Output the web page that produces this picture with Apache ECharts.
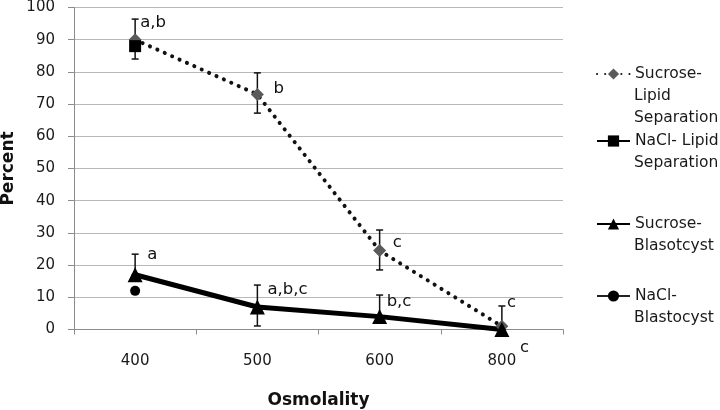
<!DOCTYPE html>
<html>
<head>
<meta charset="utf-8">
<script src="https://cdn.jsdelivr.net/npm/echarts@6/dist/echarts.min.js"></script>
<style>
html,body{margin:0;padding:0;background:#fff;}
#chart{width:720px;height:410px;}
</style>
</head>
<body>
<div id="chart"></div>
<script>
// ---- data ----
const categories = ['400', '500', '600', '800'];
const yTicks = [0, 10, 20, 30, 40, 50, 60, 70, 80, 90, 100];
const sucroseLipid = [90, 73, 24.5, 1];
const naclLipid = [88, null, null, null];
const sucroseBlast = [17, 7, 4, 0];
const naclBlast = [12, null, null, null];
// error bars (low / high) per category
const lipidErrLow = [84, 67.2, 18.5, 0];
const lipidErrHigh = [96.4, 79.7, 30.9, 7.3];
const blastErrLow = [17, 1.1, 4, 0];
const blastErrHigh = [23.4, 13.8, 10.7, 0];
// significance letters: category index, anchor value, text
const letterCats = [0, 1, 2, 3, 0, 1, 2, 3];
const letterVals = [90, 73, 24.5, 1, 17, 7, 4, 0];
const letterTexts = ['a,b', 'b', 'c', 'c', 'a', 'a,b,c', 'b,c', 'c'];
const seriesNames = ['Sucrose-Lipid Separation', 'NaCl- Lipid Separation', 'Sucrose-Blasotcyst', 'NaCl-Blastocyst'];
const legendLines = [['Sucrose-', 'Lipid', 'Separation'], ['NaCl- Lipid', 'Separation'], ['Sucrose-', 'Blasotcyst'], ['NaCl-', 'Blastocyst']];

// ---- layout / style ----
const FONT = 'DejaVu Sans';
const letterOffsets = [[5, -17], [16, -6], [13, -8], [5, -24], [12, -20], [10, -17], [7, -15], [18, 18]];
const legendTops = [75, 142, 225, 297];
const lineGap = 22;

const chart = echarts.init(document.getElementById('chart'), null, {renderer: 'canvas'});

function errData(lo, hi) {
  return lo.map((v, i) => [i, v, hi[i]]);
}
function errRender(params, api) {
  const i = api.value(0);
  const p1 = api.coord([i, api.value(1)]);
  const p2 = api.coord([i, api.value(2)]);
  const c = 3.5;
  const st = {stroke: '#111', lineWidth: 1.5};
  const children = [
    {type: 'line', shape: {x1: p1[0], y1: p1[1], x2: p2[0], y2: p2[1]}, style: st},
    {type: 'line', shape: {x1: p2[0] - c, y1: p2[1], x2: p2[0] + c, y2: p2[1]}, style: st}
  ];
  if (Math.abs(p1[1] - p2[1]) > 0.5) {
    children.push({type: 'line', shape: {x1: p1[0] - c, y1: p1[1], x2: p1[0] + c, y2: p1[1]}, style: st});
  }
  return {type: 'group', children: children};
}

const legends = seriesNames.map((n, k) => ({
  data: [n],
  left: 596,
  top: legendTops[k] - 9,
  orient: 'vertical',
  padding: 0,
  itemWidth: 33,
  itemHeight: 14,
  selectedMode: false,
  formatter: () => legendLines[k][0],
  textStyle: {fontFamily: FONT, fontSize: 15.5, color: '#1a1a1a'}
}));

const graphics = [];
legendLines.forEach((lines, k) => {
  lines.slice(1).forEach((t, j) => {
    graphics.push({
      type: 'text', left: 634, top: legendTops[k] + lineGap * (j + 1) - 9,
      style: {text: t, font: '15.5px "DejaVu Sans"', fill: '#1a1a1a'}
    });
  });
});

const option = {
  animation: false,
  backgroundColor: '#fff',
  grid: {left: 74, right: 157, top: 7.5, bottom: 80.5, containLabel: false, outerBoundsMode: 'none'},
  legend: legends,
  graphic: graphics,
  xAxis: {
    type: 'category',
    data: categories,
    boundaryGap: true,
    name: 'Osmolality',
    nameLocation: 'middle',
    nameGap: 63,
    nameMoveOverlap: false,
    nameTextStyle: {fontFamily: FONT, fontSize: 17, fontWeight: 'bold', color: '#111'},
    axisLine: {lineStyle: {color: '#8c8c8c', width: 1}},
    axisTick: {show: true, length: 5, lineStyle: {color: '#8c8c8c'}},
    axisLabel: {margin: 24, fontFamily: FONT, fontSize: 15, color: '#1a1a1a'}
  },
  yAxis: {
    type: 'value',
    min: 0, max: 100, interval: 10,
    name: 'Percent',
    nameLocation: 'middle',
    nameGap: 57,
    nameMoveOverlap: false,
    nameRotate: 90,
    nameTextStyle: {fontFamily: FONT, fontSize: 17, fontWeight: 'bold', color: '#111'},
    axisLine: {show: true, lineStyle: {color: '#8c8c8c', width: 1}},
    axisTick: {show: true, length: 6, lineStyle: {color: '#8c8c8c'}},
    splitLine: {lineStyle: {color: '#b8b8b8', width: 1}},
    axisLabel: {margin: 19, fontFamily: FONT, fontSize: 15, color: '#1a1a1a',
      formatter: v => (yTicks.indexOf(v) >= 0 ? String(v) : '')}
  },
  series: [
    {
      type: 'custom', name: 'errLipid', z: 1, silent: true,
      renderItem: errRender, data: errData(lipidErrLow, lipidErrHigh)
    },
    {
      type: 'custom', name: 'errBlast', z: 1, silent: true,
      renderItem: errRender, data: errData(blastErrLow, blastErrHigh)
    },
    {
      name: seriesNames[0], type: 'line', data: sucroseLipid, z: 3,
      symbol: 'diamond', symbolSize: 13,
      itemStyle: {color: '#5a5a5a'},
      lineStyle: {color: '#111', width: 4, type: [0.1, 8], cap: 'round'}
    },
    {
      name: seriesNames[1], type: 'line', data: naclLipid, z: 4,
      symbol: 'rect', symbolSize: 12,
      itemStyle: {color: '#000'},
      lineStyle: {color: '#000', width: 4}
    },
    {
      name: seriesNames[2], type: 'line', data: sucroseBlast, z: 3,
      symbol: 'triangle', symbolSize: 15,
      itemStyle: {color: '#000'},
      lineStyle: {color: '#000', width: 5}
    },
    {
      name: seriesNames[3], type: 'line', data: naclBlast, z: 2,
      symbol: 'circle', symbolSize: 10,
      itemStyle: {color: '#000'},
      lineStyle: {color: '#222', width: 2.5}
    },
    {
      type: 'custom', name: 'letters', z: 5, silent: true,
      data: letterCats.map((c, i) => [c, letterVals[i], i]),
      renderItem: function (params, api) {
        const idx = api.value(2);
        const p = api.coord([api.value(0), api.value(1)]);
        const o = letterOffsets[idx];
        return {
          type: 'text', x: p[0] + o[0], y: p[1] + o[1],
          style: {text: letterTexts[idx], font: '16.5px "DejaVu Sans"', fill: '#111',
            align: 'left', verticalAlign: 'middle'}
        };
      }
    }
  ]
};
chart.setOption(option);
</script>
</body>
</html>
